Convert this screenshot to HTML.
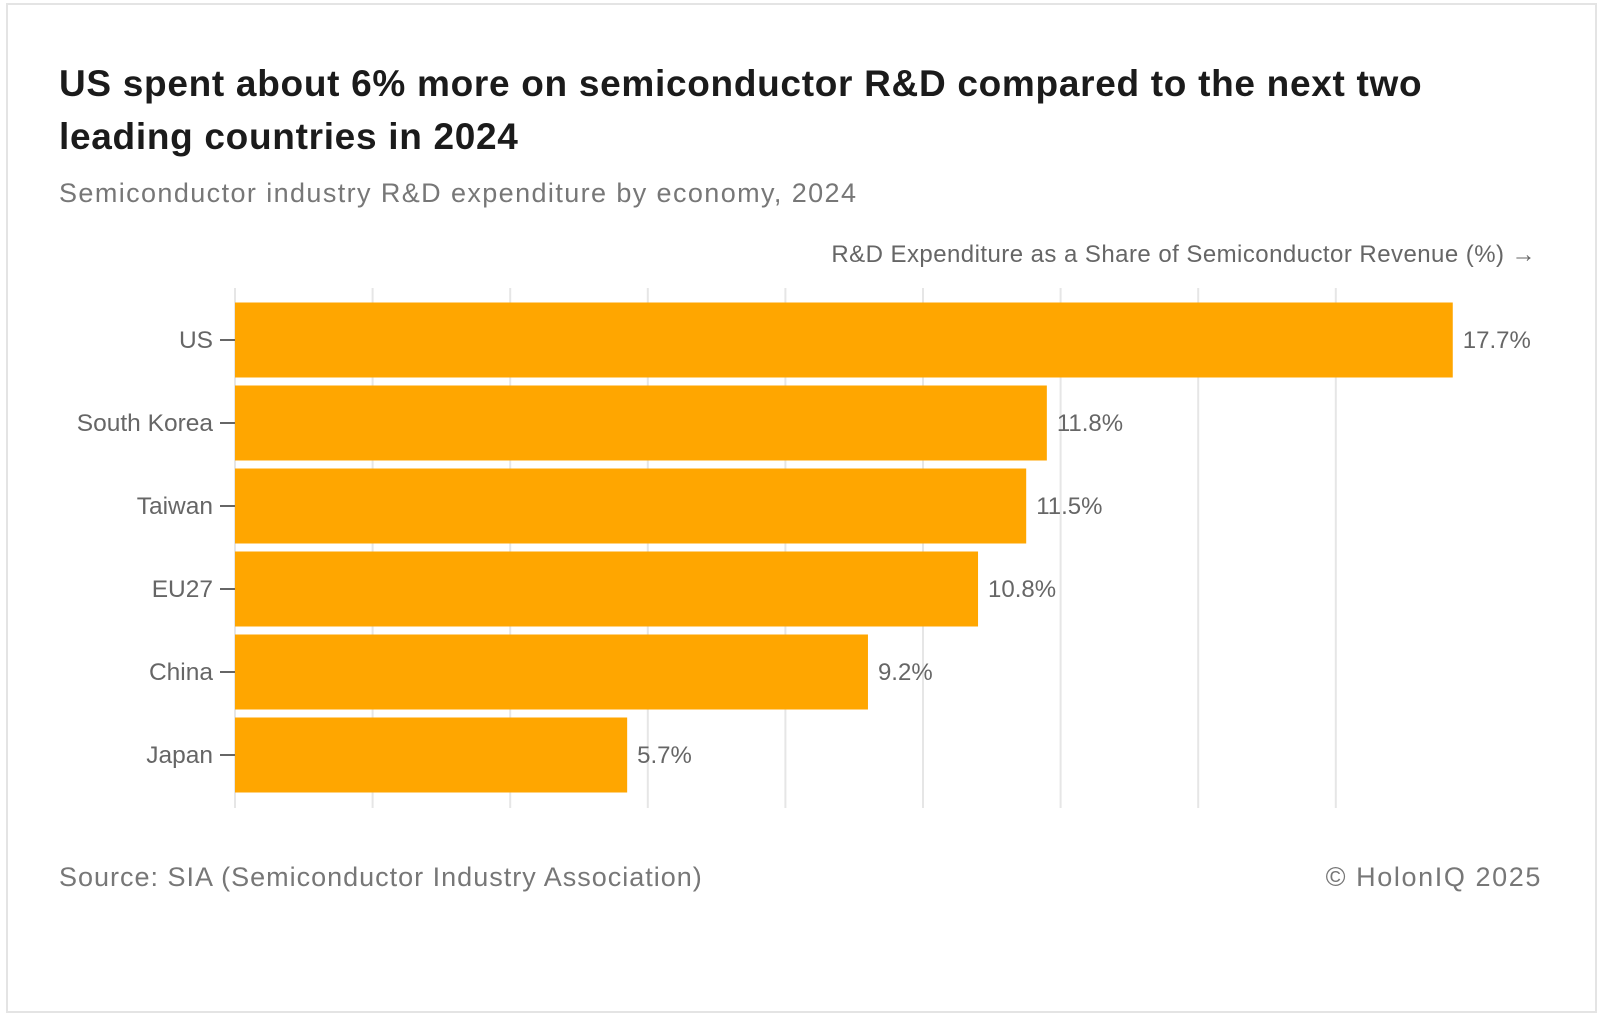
<!DOCTYPE html>
<html><head><meta charset="utf-8"><style>
body{margin:0;width:1600px;height:1016px;background:#fff;overflow:hidden;font-family:"Liberation Sans",sans-serif}
.frame{position:absolute;left:6px;top:3px;width:1591px;height:1010px;border:2px solid #e4e4e4;box-sizing:border-box}
.t{position:absolute;white-space:nowrap}
</style></head><body>
<div class="frame"></div>
<div class="t" style="left:59px;top:57px;font-size:37px;letter-spacing:0.7px;font-weight:bold;color:#1b1b1b;line-height:53px">US spent about 6% more on semiconductor R&amp;D compared to the next two<br>leading countries in 2024</div>
<div class="t" style="left:59px;top:178px;font-size:27px;letter-spacing:1.4px;color:#777">Semiconductor industry R&amp;D expenditure by economy, 2024</div>
<svg width="1600" height="1016" style="position:absolute;left:0;top:0">
<g id="grid"></g><g id="bars"></g>
<text x="1536" y="262" text-anchor="end" font-size="24" letter-spacing="0.45" fill="#666">R&amp;D Expenditure as a Share of Semiconductor Revenue (%) →</text>
</svg>
<div class="t" style="left:59px;top:862px;font-size:27px;letter-spacing:1px;color:#777">Source: SIA (Semiconductor Industry Association)</div>
<div class="t" style="right:58px;top:862px;font-size:27px;letter-spacing:1.6px;color:#777">© HolonIQ 2025</div>
<script>
const categories=["US","South Korea","Taiwan","EU27","China","Japan"];
const values=[17.7,11.8,11.5,10.8,9.2,5.7];
const gridTicks=[0,2,4,6,8,10,12,14,16];
const NS="http://www.w3.org/2000/svg";
const x=v=>235+v*68.8;
const yC=i=>340+i*83;
const grid=document.getElementById('grid'),bars=document.getElementById('bars');
function mk(tag,a,p){const e=document.createElementNS(NS,tag);for(const k in a)e.setAttribute(k,a[k]);p.appendChild(e);return e;}
gridTicks.forEach(t=>{
 const l=mk('line',{x1:x(t),x2:x(t),y1:288,y2:808,stroke:'#e6e6e6','stroke-width':2},grid);
 
 
});
categories.forEach((c,i)=>{
 const r=mk('rect',{x:x(0),y:yC(i)-37.5,width:x(values[i])-x(0),height:75,fill:'#FFA600'},bars);
 
 
 const tk=mk('line',{x1:x(0)-15,x2:x(0),y1:yC(i),y2:yC(i),stroke:'#666','stroke-width':2},bars);
 
 
 const lb=mk('text',{x:x(0)-22,y:yC(i)+8,'text-anchor':'end','font-size':24.5,fill:'#666'},bars);
 lb.textContent=c;
 
 
 const vl=mk('text',{x:x(values[i])+10,y:yC(i)+8,'font-size':24,fill:'#666'},bars);
 vl.textContent=values[i].toFixed(1)+'%';
 
 
});
</script>
</body></html>
